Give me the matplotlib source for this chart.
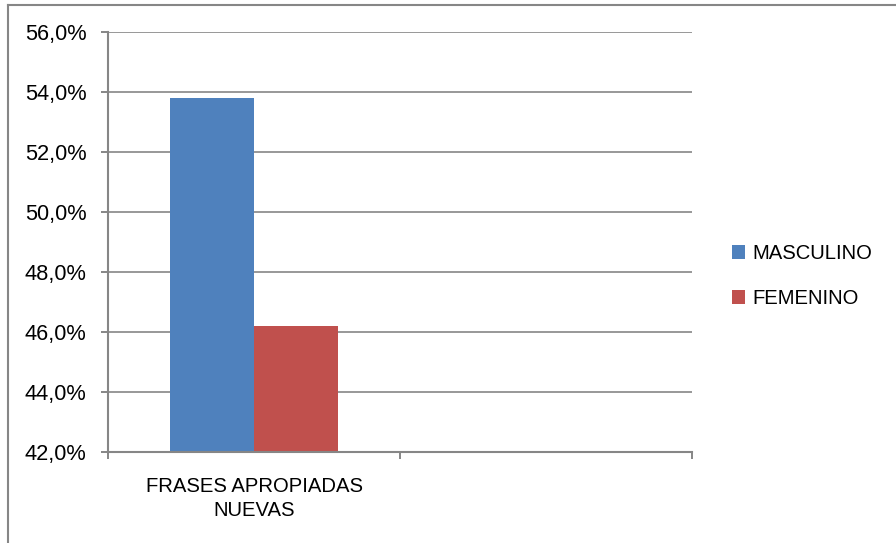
import matplotlib
matplotlib.use("Agg")
import matplotlib.pyplot as plt
from matplotlib.lines import Line2D
from matplotlib.patches import Patch
from matplotlib.ticker import FuncFormatter, MultipleLocator, FixedLocator

plt.rcParams["font.family"] = ["Liberation Sans", "DejaVu Sans"]

categories = ["FRASES APROPIADAS\nNUEVAS", ""]
series = ["MASCULINO", "FEMENINO"]
masculino = [53.8, None]
femenino = [46.2, None]
colors = ["#4F81BD", "#C0504D"]

grey = "#868686"

fig = plt.figure(figsize=(8.96, 5.43), dpi=100)
ax = fig.add_axes([108 / 896, 1 - 452 / 543, 584 / 896, 420 / 543])

width = 84 / 292
for i, (vals, c) in enumerate(zip([masculino, femenino], colors)):
    xs = [k for k, v in enumerate(vals) if v is not None]
    hs = [v for v in vals if v is not None]
    offset = (i - 0.5) * width
    ax.bar([x + offset for x in xs], [h - 42 for h in hs], width=width,
           bottom=42, color=c, zorder=3, linewidth=0)

ax.set_xlim(-0.5, 1.5)
ax.set_ylim(42, 56)
ax.yaxis.set_major_locator(MultipleLocator(2))
ax.yaxis.set_major_formatter(FuncFormatter(lambda v, p: f"{v:.1f}%".replace(".", ",")))
ax.grid(axis="y", color=grey, linewidth=1.2, zorder=0)

# category labels sit between boundary ticks
ax.xaxis.set_major_locator(FixedLocator([-0.5, 0.5, 1.5]))
ax.xaxis.set_major_formatter(FuncFormatter(lambda v, p: ""))
ax.xaxis.set_minor_locator(FixedLocator([0, 1]))
ax.set_xticklabels(categories, minor=True, fontsize=14.6, linespacing=1.35)
ax.tick_params(axis="x", which="minor", length=0, pad=18)
ax.tick_params(axis="x", which="major", length=5, width=1.4, color=grey)
ax.tick_params(axis="y", length=5, width=1.4, color=grey, labelsize=15.7, pad=10.5)

for side in ["top", "right"]:
    ax.spines[side].set_visible(False)
for side in ["left", "bottom"]:
    ax.spines[side].set_color(grey)
    ax.spines[side].set_linewidth(1.5)
    ax.spines[side].set_zorder(4)

handles = [Patch(facecolor=c, label=s) for s, c in zip(series, colors)]
fig.legend(handles=handles, loc="center left", bbox_to_anchor=(731.5 / 896, 1 - 276 / 543),
           frameon=False, fontsize=14.6,
           handlelength=0.69, handleheight=0.69, handletextpad=0.35,
           labelspacing=1.25, borderaxespad=0, borderpad=0)

# outer chart frame
fig.add_artist(Line2D([7.5 / 896, 7.5 / 896], [0, 1 - 4.5 / 543], transform=fig.transFigure,
                      color=grey, linewidth=1.5))
fig.add_artist(Line2D([7.5 / 896, 1], [1 - 4.5 / 543, 1 - 4.5 / 543], transform=fig.transFigure,
                      color=grey, linewidth=1.5))

fig.savefig("out.png", dpi=100)
